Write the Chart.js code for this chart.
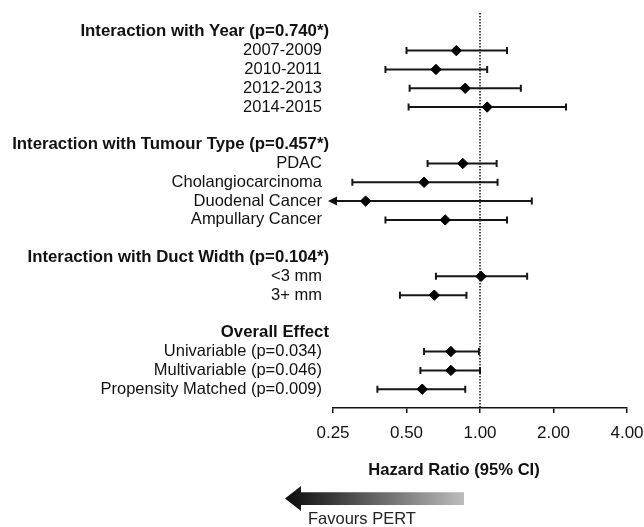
<!DOCTYPE html>
<html>
<head>
<meta charset="utf-8">
<script src="https://cdn.jsdelivr.net/npm/chart.js@4.4.1/dist/chart.umd.min.js"></script>
<style>
  html, body { margin: 0; padding: 0; background: #fff; }
  #wrap { width: 644px; height: 527px; }
</style>
</head>
<body>
<div id="wrap"><canvas id="c" width="644" height="527"></canvas></div>
<script>
// ---- data ----
const rowLabels = [
  'Interaction with Year (p=0.740*)', '2007-2009', '2010-2011', '2012-2013', '2014-2015', '',
  'Interaction with Tumour Type (p=0.457*)', 'PDAC', 'Cholangiocarcinoma', 'Duodenal Cancer', 'Ampullary Cancer', '',
  'Interaction with Duct Width (p=0.104*)', '<3 mm', '3+ mm', '',
  'Overall Effect', 'Univariable (p=0.034)', 'Multivariable (p=0.046)', 'Propensity Matched (p=0.009)'
];
const isHeader = [1,0,0,0,0,0, 1,0,0,0,0,0, 1,0,0,0, 1,0,0,0];
const hazardRatio = [null, 0.80, 0.66, 0.87, 1.07, null, null, 0.85, 0.59, 0.34, 0.72, null, null, 1.01, 0.65, null, null, 0.76, 0.76, 0.58];
const ciLower     = [null, 0.50, 0.41, 0.515, 0.51, null, null, 0.61, 0.30, 0.15, 0.41, null, null, 0.66, 0.47, null, null, 0.59, 0.57, 0.38];
const ciUpper     = [null, 1.29, 1.07, 1.47, 2.25, null, null, 1.17, 1.18, 1.63, 1.29, null, null, 1.56, 0.88, null, null, 0.99, 1.00, 0.87];
const xTicks = [0.25, 0.5, 1, 2, 4];
const xTitle = 'Hazard Ratio (95% CI)';
const favoursText = 'Favours PERT';

const FONT = '"Liberation Sans", Arial, sans-serif';
const INK = '#111';

const points = [];
hazardRatio.forEach((v, i) => { if (v !== null) points.push({x: v, y: i}); });

const forestPlugin = {
  id: 'forest',
  beforeDatasetsDraw(chart) {
    const {ctx, chartArea, scales: {x, y}} = chart;
    ctx.save();
    // reference line at HR = 1
    const x1 = x.getPixelForValue(1);
    ctx.strokeStyle = '#111';
    ctx.lineWidth = 1.5;
    ctx.setLineDash([1.5, 1.5]);
    ctx.beginPath();
    ctx.moveTo(x1, chartArea.top);
    ctx.lineTo(x1, chartArea.bottom);
    ctx.stroke();
    ctx.setLineDash([]);
    // error bars
    ctx.strokeStyle = '#161616';
    ctx.fillStyle = '#111';
    ctx.lineWidth = 2;
    hazardRatio.forEach((v, i) => {
      if (v === null) return;
      const yy = y.getPixelForValue(i);
      const clipped = ciLower[i] < x.min;
      const xl = x.getPixelForValue(Math.max(ciLower[i], x.min));
      const xh = x.getPixelForValue(ciUpper[i]);
      ctx.beginPath();
      ctx.moveTo(xl, yy); ctx.lineTo(xh, yy);
      ctx.moveTo(xh, yy - 3.5); ctx.lineTo(xh, yy + 3.5);
      if (!clipped) { ctx.moveTo(xl, yy - 3.5); ctx.lineTo(xl, yy + 3.5); }
      ctx.stroke();
      if (clipped) {
        ctx.beginPath();
        ctx.moveTo(xl - 5, yy);
        ctx.lineTo(xl + 4, yy - 4.5);
        ctx.lineTo(xl + 4, yy + 4.5);
        ctx.closePath();
        ctx.fill();
      }
    });
    ctx.restore();
  },
  afterDraw(chart) {
    const {ctx, chartArea, scales: {x, y}} = chart;
    ctx.save();
    // row labels
    ctx.textAlign = 'right';
    ctx.textBaseline = 'middle';
    ctx.fillStyle = INK;
    rowLabels.forEach((t, i) => {
      if (!t) return;
      const yy = y.getPixelForValue(i);
      if (isHeader[i]) {
        ctx.font = 'bold 16.8px ' + FONT;
        ctx.fillText(t, chartArea.left - 4, yy);
      } else {
        ctx.font = '16.5px ' + FONT;
        ctx.fillText(t, chartArea.left - 11, yy);
      }
    });
    // axis title
    ctx.font = 'bold 16.6px ' + FONT;
    ctx.textAlign = 'center';
    ctx.fillText(xTitle, chartArea.left + 121, chartArea.bottom + 62);
    // gradient arrow
    const tipX = chartArea.left - 48, endX = chartArea.left + 131;
    const cy = chartArea.bottom + 90.5;
    const g = ctx.createLinearGradient(tipX, 0, endX, 0);
    g.addColorStop(0, '#0a0a0a');
    g.addColorStop(1, '#bcbcbc');
    ctx.fillStyle = g;
    ctx.beginPath();
    ctx.moveTo(tipX, cy);
    ctx.lineTo(tipX + 16, cy - 12.5);
    ctx.lineTo(tipX + 16, cy - 6.3);
    ctx.lineTo(endX, cy - 6.3);
    ctx.lineTo(endX, cy + 6.5);
    ctx.lineTo(tipX + 16, cy + 6.5);
    ctx.lineTo(tipX + 16, cy + 12.5);
    ctx.closePath();
    ctx.fill();
    // favours text
    ctx.fillStyle = '#222';
    ctx.font = '16.5px ' + FONT;
    ctx.textAlign = 'left';
    ctx.fillText(favoursText, chartArea.left - 25, chartArea.bottom + 111);
    ctx.restore();
  }
};

new Chart(document.getElementById('c'), {
  type: 'scatter',
  data: {
    datasets: [{
      data: points,
      pointStyle: 'rectRot',
      pointRadius: 5.2,
      pointHoverRadius: 5.2,
      backgroundColor: '#000',
      borderColor: '#000',
      borderWidth: 1
    }]
  },
  options: {
    responsive: false,
    animation: false,
    devicePixelRatio: 1,
    layout: { padding: { left: 333, right: 17, top: 13, bottom: 0 } },
    plugins: { legend: { display: false }, tooltip: { enabled: false } },
    scales: {
      x: {
        type: 'logarithmic',
        min: 0.25,
        max: 4,
        afterBuildTicks(scale) { scale.ticks = xTicks.map(v => ({ value: v })); },
        afterFit(scale) {
          scale.height = 119;
          scale.paddingLeft = 0;
          scale.paddingRight = 0;
        },
        ticks: {
          callback: v => Number(v).toFixed(2),
          font: { family: FONT, size: 17 },
          color: INK,
          padding: 10,
          autoSkip: false,
          maxRotation: 0
        },
        grid: { drawOnChartArea: false, drawTicks: true, tickLength: 5, color: '#111', lineWidth: 1.5 },
        border: { display: true, color: '#111', width: 1.5 }
      },
      y: {
        type: 'linear',
        min: -1,
        max: 20,
        reverse: true,
        display: false
      }
    }
  },
  plugins: [forestPlugin]
});
</script>
</body>
</html>
